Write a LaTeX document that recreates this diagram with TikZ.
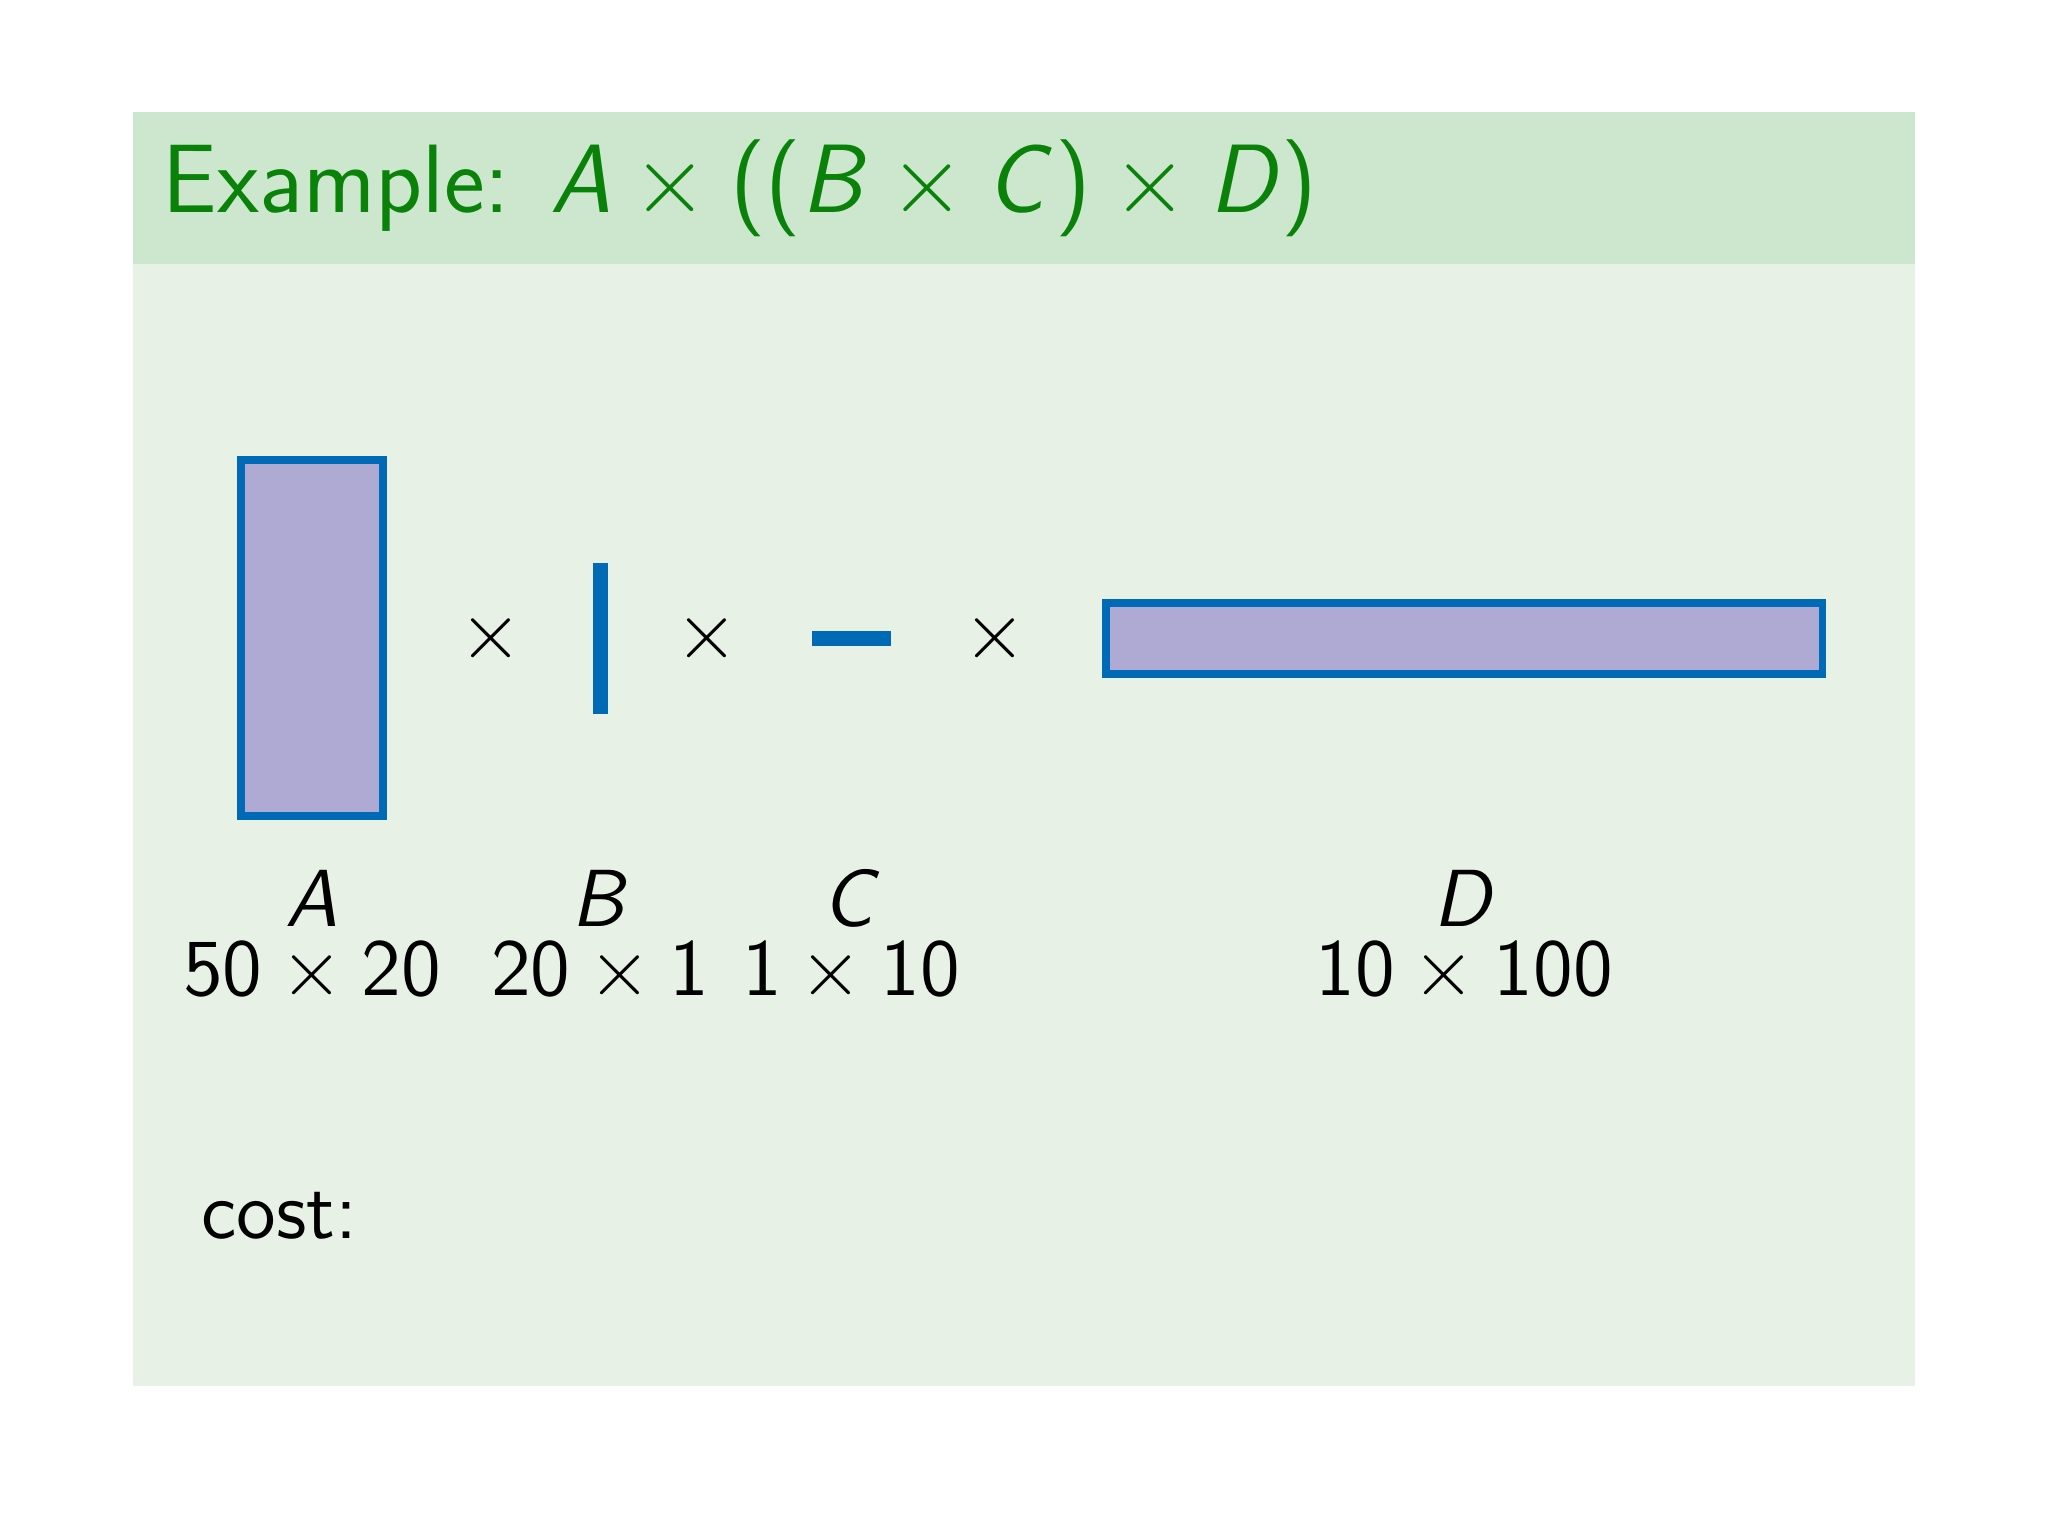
\documentclass[tikz,border=0pt]{standalone}
\usepackage{tikz}
\usetikzlibrary{positioning}

\definecolor{framebg}{RGB}{232,241,230}
\definecolor{titlebg}{RGB}{205,231,207}
\definecolor{titlegreen}{RGB}{10,130,10}
\definecolor{matblue}{RGB}{0,106,182}
\definecolor{matfill}{RGB}{174,170,212}

\begin{document}
\begin{tikzpicture}[
                    mat/.style={draw=matblue, fill=matfill, line width=1.4pt, inner sep=0pt},
                    op/.style={font=\fontsize{14.4}{17}\sffamily, inner sep=0pt},
                    dims/.style={font=\fontsize{14.4}{17}\sffamily, anchor=base, inner sep=0pt},
                ]
                \useasboundingbox (0,0) rectangle (12.8,9.6);
                \fill[framebg] (0.83,0.94) rectangle (11.97,8.9);
                \fill[titlebg] (0.83,7.95) rectangle (11.97,8.9);
                \node[anchor=base west, inner sep=0pt, text=titlegreen, font=\fontsize{17.28}{20}\sffamily] (title) at (1.01,8.27)
                        {Example: $\textit{A}\times\textup{((}\textit{B}\mskip1mu\times\textit{C}\mskip2mu\textup{)}\times\textit{D}\mskip1mu\textup{)}$};
                % the four matrices, 1 unit = 0.0445cm
                \node[mat, minimum width=0.89cm, minimum height=2.225cm] (A) at (1.95,5.61) {};
                \node[mat, minimum width=0.0445cm, minimum height=0.89cm] (B) at (3.75,5.61) {};
                \node[mat, minimum width=0.445cm, minimum height=0.0445cm] (C) at (5.32,5.61) {};
                \node[mat, minimum width=4.48cm, minimum height=0.445cm] (D) at (9.15,5.61) {};
                \node[op] (tAB) at (3.07,5.61) {$\times$};
                \node[op] (tBC) at (4.42,5.61) {$\times$};
                \node[op] (tCD) at (6.22,5.61) {$\times$};
                % names and sizes
                \node[dims] (nA) at (A |- 0,3.81) {\textit{A}};
                \node[dims] (nB) at (B |- 0,3.81) {\textit{B}};
                \node[dims] (nC) at (C |- 0,3.81) {\textit{C}};
                \node[dims] (nD) at (D |- 0,3.81) {\textit{D}};
                \node[dims] (sA) at (A |- 0,3.38) {$\mbox{50}\times\mbox{20}$};
                \node[dims] (sB) at (B |- 0,3.38) {$\mbox{20}\times\mbox{1}$};
                \node[dims] (sC) at (C |- 0,3.38) {$\mbox{1}\times\mbox{10}$};
                \node[dims] (sD) at (D |- 0,3.38) {$\mbox{10}\times\mbox{100}$};
                \node[anchor=base west, inner sep=0pt, font=\fontsize{14.4}{17}\sffamily] (cost) at (1.25,1.86) {cost:};
\end{tikzpicture}
\end{document}
